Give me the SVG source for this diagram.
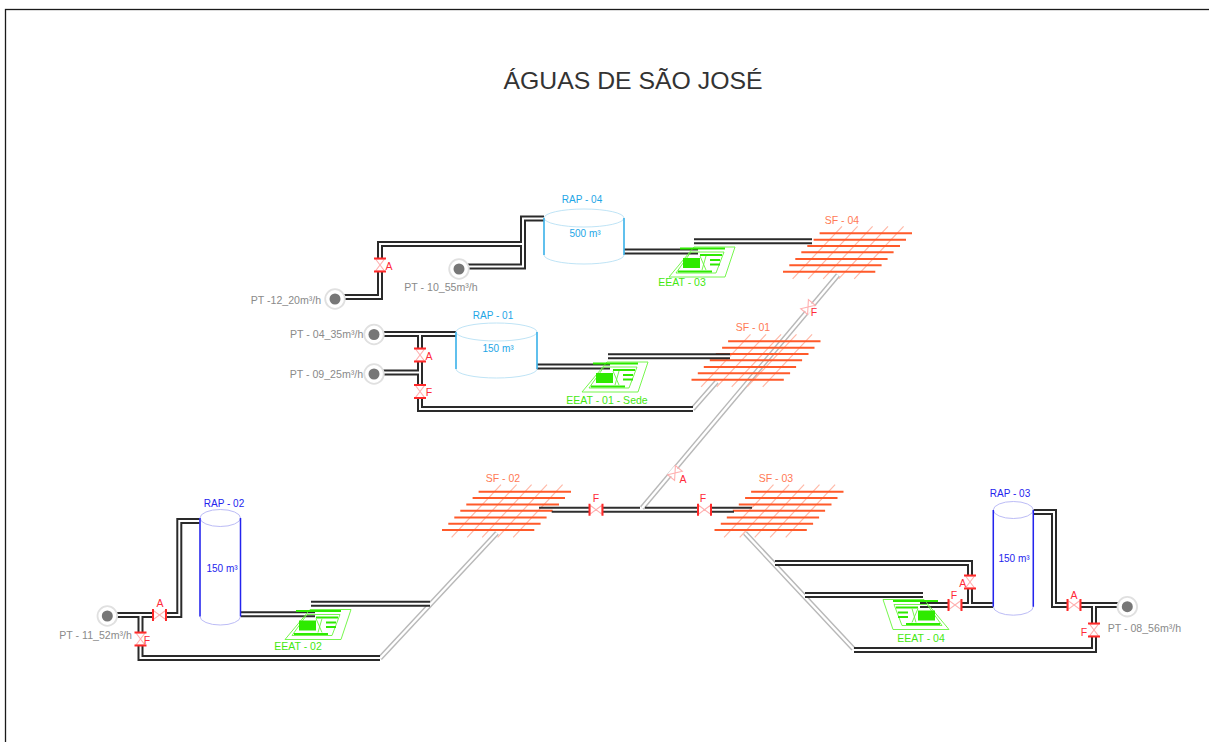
<svg xmlns="http://www.w3.org/2000/svg" width="1209" height="742" viewBox="0 0 1209 742">
<style>
text{font-family:"Liberation Sans",Arial,sans-serif}
.title{font-size:24.8px;fill:#333;text-anchor:middle}
.pt{font-size:10.6px;fill:#8a8a8a}
.cap{font-size:10px;text-anchor:middle}
.vl{font-size:10.5px;fill:#ff2a3a;text-anchor:middle}
.sfl{font-size:10.5px;fill:#ff7a55;text-anchor:middle}
.el{font-size:10.5px;fill:#44e810;text-anchor:middle}
.po,.pi,.go,.gi,.ln{fill:none}
.po{stroke:#2a2a2a;stroke-width:6}
.pi{stroke:#fff;stroke-width:2}
.go{stroke:#b8b8b8;stroke-width:5.2}
.gi{stroke:#fff;stroke-width:2.4}
.ln{stroke:#2f2f2f;stroke-width:2}
.sfh{stroke:#ff5a2a;stroke-width:2}
.sfd{stroke:#ffb9a8;stroke-width:1.2}
.tc{fill:#fff;stroke:#bfe4f6;stroke-width:1}
.ts{fill:none;stroke:#1ea6e6;stroke-width:1.3}
.tc2{fill:#fff;stroke:#bcbcf6;stroke-width:1}
.ts2{fill:none;stroke:#2424ee;stroke-width:1.5}
.cb{fill:#fff;stroke:#e0e0e0;stroke-width:1.8}
.cd{fill:#777}
.vb{stroke:#ff2a2a;stroke-width:2}
.vw{fill:#fff}
.vx{fill:none;stroke:#ffb0b0;stroke-width:1.1}
.gn{fill:none;stroke:#66f53a;stroke-width:.9}
.gb{stroke:#2eea00;stroke-width:2}
.gf{fill:#2eea00}
</style>
<defs>
<g id="valve">
<rect class="vw" x="-6" y="-6.500" width="12" height="13"/>
<path class="vx" d="M-4.500-6 L4.500 6 L-4.500 6 L4.500-6 Z"/>
<path class="vb" d="M-6-6.500H6M-6 6.500H6"/>
</g>
<g id="valvep">
<rect class="vw" x="-5" y="-5" width="10" height="10"/>
<path class="vx" d="M-4.500-6 L4.500 6 L-4.500 6 L4.500-6 Z"/>
</g>
<g id="sf">
<path class="sfd" d="M60-7L10.600 45.600M75.600-7L26.200 45.600M90.600-7L41.200 45.600M106-7L56.600 45.600M121.600-7L72.200 45.600"/>
<path class="sfh" d="M37.600 0H130M31.600 6.400H124M25.300 12.700H118M19.300 19H111.600M13.300 25.700H105.600M7.300 32H99.600M1 38.400H93.300"/>
</g>
<g id="eeat">
<path class="gn" d="M25 0H66L56 30H0Z"/>
<path class="gn" d="M22 5H55L47 26H7Z"/>
<path class="gb" d="M11 1.500H56M9 24.500H43M31 8H53M41 13H51M41 17.500H51"/>
<path class="gf" d="M14 11H31V21H14Z"/>
<path class="gn" d="M31 9L37 23M37 9L33 23"/>
</g>
<g id="pt">
<circle class="cb" r="9.800"/>
<circle class="cd" r="5.500"/>
</g>
<path id="c1" d="M342 297H380V244H523M544 218.500H523V266.500H467"/>
<path id="c2" d="M381 334H456M420 334V409H693M381 372.500H420"/>
<path id="c3" d="M624 251.500H698M694 241.300H812"/>
<path id="c4" d="M537 366.500H610M608 356.300H730"/>
<path id="c5" d="M115 615H179.300V521H200M140.500 615V658H380"/>
<path id="c6" d="M241 614.300H315M311 603.700H430"/>
<path id="c7" d="M920 605H993M970 605V563H775M923 595H805"/>
<path id="c8" d="M1033 512H1054V605H1118M1094 605V650H854"/>
<path id="g1" d="M692.700 409L716.700 381.700"/>
<path id="g2" d="M642 508L838 275"/>
<path id="g3" d="M380 658.300L497 533"/>
<path id="g4" d="M745 533L853.300 648.800"/>
</defs>
<rect id="frame" x="5.500" y="9.500" width="1240" height="760" fill="none" stroke="#1a1a1a" stroke-width="1.3"/>
<text class="title" x="633" y="89">ÁGUAS DE SÃO JOSÉ</text>
<g id="connectors-gray">
<use href="#g1" class="go"/><use href="#g2" class="go"/><use href="#g3" class="go"/><use href="#g4" class="go"/>
<use href="#g1" class="gi"/><use href="#g2" class="gi"/><use href="#g3" class="gi"/><use href="#g4" class="gi"/>
</g>
<g id="sf-04"><use href="#sf" x="782" y="233.300"/><text class="sfl" x="842" y="224">SF - 04</text></g>
<g id="sf-01"><use href="#sf" x="690.500" y="341.300"/><text class="sfl" x="753" y="331">SF - 01</text></g>
<g id="sf-02"><use href="#sf" x="441" y="491.700"/><text class="sfl" x="503" y="482">SF - 02</text></g>
<g id="sf-03"><use href="#sf" x="713.500" y="491.700"/><text class="sfl" x="776" y="482">SF - 03</text></g>
<g id="connectors">
<use href="#c1" class="po"/><use href="#c2" class="po"/><use href="#c3" class="po"/><use href="#c4" class="po"/><use href="#c5" class="po"/><use href="#c6" class="po"/><use href="#c7" class="po"/><use href="#c8" class="po"/>
<use href="#c1" class="pi"/><use href="#c2" class="pi"/><use href="#c3" class="pi"/><use href="#c4" class="pi"/><use href="#c5" class="pi"/><use href="#c6" class="pi"/><use href="#c7" class="pi"/><use href="#c8" class="pi"/>
<path class="ln" d="M539 507.700H640M645 507.700H752M551.700 511.700H734"/>
</g>
<g id="rap-04">
<path class="tc" d="M544 218V255A40 9 0 0 0 624 255V218Z"/><ellipse class="tc" cx="584" cy="218" rx="40" ry="9"/>
<path class="ts" d="M544 218V255M624 218V255"/>
<text class="cap" fill="#1ea6e6" x="582" y="203">RAP - 04</text><text class="cap" fill="#1ea6e6" x="585" y="237">500 m³</text>
</g>
<g id="rap-01">
<path class="tc" d="M456 332V369A40.500 9 0 0 0 537 369V332Z"/><ellipse class="tc" cx="496.500" cy="332" rx="40.500" ry="9"/>
<path class="ts" d="M456 332V369M537 332V369"/>
<text class="cap" fill="#1ea6e6" x="493" y="319">RAP - 01</text><text class="cap" fill="#1ea6e6" x="498" y="352">150 m³</text>
</g>
<g id="rap-02">
<path class="tc2" d="M200 518V616.500A20.250 8.500 0 0 0 240.500 616.500V518Z"/><ellipse class="tc2" cx="220.250" cy="518" rx="20.250" ry="8.500"/>
<path class="ts2" d="M200 518V616.500M240.500 518V616.500"/>
<text class="cap" fill="#2424ee" x="224" y="507">RAP - 02</text><text class="cap" fill="#2424ee" x="222" y="572">150 m³</text>
</g>
<g id="rap-03">
<path class="tc2" d="M993.300 510V606.700A20 8.500 0 0 0 1033.300 606.700V510Z"/><ellipse class="tc2" cx="1013.300" cy="510" rx="20" ry="8.500"/>
<path class="ts2" d="M993.300 510V606.700M1033.300 510V606.700"/>
<text class="cap" fill="#2424ee" x="1010" y="497">RAP - 03</text><text class="cap" fill="#2424ee" x="1014" y="562">150 m³</text>
</g>
<g id="eeat-03"><use href="#eeat" x="669" y="247"/><text class="el" x="682" y="286">EEAT - 03</text></g>
<g id="eeat-01"><use href="#eeat" x="582" y="362"/><text class="el" x="607" y="404">EEAT - 01 - Sede</text></g>
<g id="eeat-02"><use href="#eeat" x="285" y="609.500"/><text class="el" x="298" y="650">EEAT - 02</text></g>
<g id="eeat-04"><use href="#eeat" transform="translate(949 599.500) scale(-1 1)"/><text class="el" x="921" y="641.500">EEAT - 04</text></g>
<g id="pt-12"><use href="#pt" x="335" y="299"/><text class="pt" x="250.700" y="303.500">PT -12_20m³/h</text></g>
<g id="pt-10"><use href="#pt" x="459" y="269"/><text class="pt" x="404.300" y="290.500">PT - 10_55m³/h</text></g>
<g id="pt-04"><use href="#pt" x="374" y="334.500"/><text class="pt" x="290" y="337.500">PT - 04_35m³/h</text></g>
<g id="pt-09"><use href="#pt" x="374" y="374"/><text class="pt" x="289.700" y="377.500">PT - 09_25m³/h</text></g>
<g id="pt-11"><use href="#pt" x="107.300" y="616"/><text class="pt" x="59.300" y="638.500">PT - 11_52m³/h</text></g>
<g id="pt-08"><use href="#pt" x="1127.300" y="606.700"/><text class="pt" x="1107.700" y="631.500">PT - 08_56m³/h</text></g>
<g id="v-a-12"><use href="#valve" x="380" y="265"/><text class="vl" x="389" y="270">A</text></g>
<g id="v-a-04"><use href="#valve" x="420" y="355"/><text class="vl" x="429" y="360">A</text></g>
<g id="v-f-04"><use href="#valve" x="420" y="391.500"/><text class="vl" x="429" y="395.500">F</text></g>
<g id="v-a-11"><use href="#valve" transform="translate(159.500 615) rotate(90)"/><text class="vl" x="160" y="607">A</text></g>
<g id="v-f-11"><use href="#valve" x="140.500" y="639"/><text class="vl" x="147" y="644">F</text></g>
<g id="v-f-sf2"><use href="#valve" transform="translate(596 509.700) rotate(90)"/><text class="vl" x="596" y="502">F</text></g>
<g id="v-f-sf3"><use href="#valve" transform="translate(704.500 509.700) rotate(90)"/><text class="vl" x="703" y="502">F</text></g>
<g id="v-f-e4"><use href="#valve" transform="translate(955 605) rotate(90)"/><text class="vl" x="954" y="599">F</text></g>
<g id="v-a-03"><use href="#valve" x="970" y="582"/><text class="vl" x="962.700" y="587">A</text></g>
<g id="v-a-08"><use href="#valve" transform="translate(1074 605) rotate(90)"/><text class="vl" x="1074" y="599">A</text></g>
<g id="v-f-08"><use href="#valve" x="1094" y="630"/><text class="vl" x="1084" y="636">F</text></g>
<g id="v-a-d"><use href="#valvep" transform="translate(675 473) rotate(40)"/><text class="vl" x="683" y="483">A</text></g>
<g id="v-f-d"><use href="#valvep" transform="translate(808 307) rotate(40)"/><text class="vl" x="814" y="316">F</text></g>
</svg>
